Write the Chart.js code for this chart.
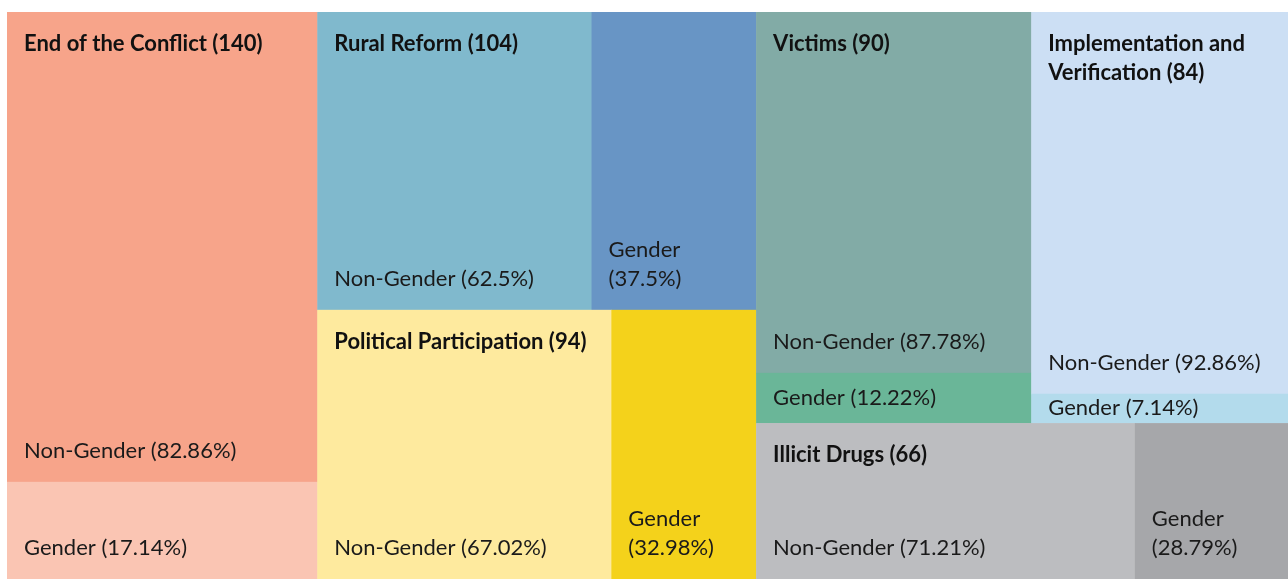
<!DOCTYPE html>
<html>
<head>
<meta charset="utf-8">
<script src="https://cdn.jsdelivr.net/npm/chart.js@4.4.1/dist/chart.umd.min.js"></script>
<style>
  html,body{margin:0;padding:0;background:#fff;}
  #wrap{width:1288px;height:579px;position:relative;}
</style>
</head>
<body>
<div id="wrap"><canvas id="tree"></canvas></div>
<script>
// provisions per chapter of the agreement
const topics=['End of the Conflict','Rural Reform','Political Participation','Victims','Implementation and Verification','Illicit Drugs'];
const totals=[140,104,94,90,84,66];
const nonGenderPct=[82.86,62.5,67.02,87.78,92.86,71.21];
const genderPct=[17.14,37.5,32.98,12.22,7.14,28.79];
const leafNames=['Non-Gender','Gender'];

// styles
const nonGenderColors=['#f7a48a','#80b9cd','#feea9e','#82aba6','#ccdff4','#bcbdc0'];
const genderColors=['#fac5b3','#6895c5','#f4d21b','#6ab698','#b3dbec','#a6a7aa'];
const FONT='Lato';

// squarified layout in a virtual box (x in [0,ax], y in [0,1])
function worst(row,s){
  const sum=row.reduce((a,b)=>a+b.a,0);
  const mx=Math.max(...row.map(r=>r.a)), mn=Math.min(...row.map(r=>r.a));
  return Math.max(s*s*mx/(sum*sum),(sum*sum)/(s*s*mn));
}
function squarify(values,rect){
  const tot=values.reduce((a,b)=>a+b,0);
  const scale=rect.w*rect.h/tot;
  let items=values.map((v,i)=>({a:v*scale,i})).sort((p,q)=>q.a-p.a);
  const out=[];
  let r={...rect};
  while(items.length){
    const s=Math.min(r.w,r.h);
    let row=[items[0]], k=1;
    while(k<items.length && worst(row.concat(items[k]),s)<=worst(row,s)){ row.push(items[k]); k++; }
    items=items.slice(k);
    const sum=row.reduce((a,b)=>a+b.a,0);
    if(r.w>=r.h){
      const w=sum/r.h; let y=r.y;
      row.forEach(it=>{ const h=it.a/w; out[it.i]={x:r.x,y,w,h}; y+=h; });
      r.x+=w; r.w-=w;
    }else{
      const h=sum/r.w; let x=r.x;
      row.forEach(it=>{ const w=it.a/h; out[it.i]={x,y:r.y,w,h}; x+=w; });
      r.y+=h; r.h-=h;
    }
  }
  return out;
}

function wrapLines(ctx,text,maxW){
  const words=text.split(' '); const lines=[]; let cur='';
  words.forEach(w=>{
    const t=cur?cur+' '+w:w;
    if(ctx.measureText(t).width>maxW && cur){ lines.push(cur); cur=w; } else cur=t;
  });
  if(cur) lines.push(cur);
  return lines;
}

const treemapPlugin={
  id:'treemap',
  afterDatasetsDraw(chart){
    const {ctx,chartArea:ca,scales:{x,y}}=chart;
    const ax=ca.width/ca.height;
    const groups=squarify(totals,{x:0,y:0,w:ax,h:1});
    const px=r=>{
      const x0=x.getPixelForValue(r.x/ax), x1=x.getPixelForValue((r.x+r.w)/ax);
      const y0=y.getPixelForValue(r.y), y1=y.getPixelForValue(r.y+r.h);
      return {l:x0,t:Math.min(y0,y1),w:x1-x0,h:Math.abs(y1-y0)};
    };
    const pad=17, lh=29;
    ctx.save();
    ctx.textBaseline='middle';
    groups.forEach((g,i)=>{
      const vals=[totals[i]*nonGenderPct[i]/100,totals[i]*genderPct[i]/100];
      const pcts=[nonGenderPct[i],genderPct[i]];
      const cols=[nonGenderColors[i],genderColors[i]];
      const leaves=squarify(vals,g);
      leaves.forEach((lf,j)=>{
        const p=px(lf);
        ctx.fillStyle=cols[j];
        ctx.fillRect(p.l,p.t,p.w+0.5,p.h+0.5);
      });
      leaves.forEach((lf,j)=>{
        const p=px(lf);
        ctx.font=`400 22px ${FONT}`;
        ctx.fillStyle='#1a1a1a';
        const lines=wrapLines(ctx,`${leafNames[j]} (${pcts[j]}%)`,p.w-2*pad);
        let yl;
        if(p.h<80) yl=p.t+p.h/2-(lines.length-1)*lh/2;
        else yl=p.t+p.h-31-(lines.length-1)*lh;
        lines.forEach((ln,k)=>ctx.fillText(ln,p.l+pad,yl+k*lh));
      });
      const gp=px(g);
      ctx.font=`700 22px ${FONT}`;
      ctx.fillStyle='#111';
      const tl=wrapLines(ctx,`${topics[i]} (${totals[i]})`,gp.w-2*pad);
      tl.forEach((ln,k)=>ctx.fillText(ln,gp.l+pad,gp.t+32+k*lh));
    });
    ctx.restore();
  }
};

new Chart(document.getElementById('tree'),{
  type:'scatter',
  data:{datasets:[]},
  options:{
    responsive:true,maintainAspectRatio:false,animation:false,
    layout:{padding:{left:7,top:12,right:0,bottom:0}},
    plugins:{legend:{display:false},tooltip:{enabled:false}},
    scales:{
      x:{type:'linear',min:0,max:1,display:false},
      y:{type:'linear',min:0,max:1,reverse:true,display:false}
    }
  },
  plugins:[treemapPlugin]
});
</script>
</body>
</html>
